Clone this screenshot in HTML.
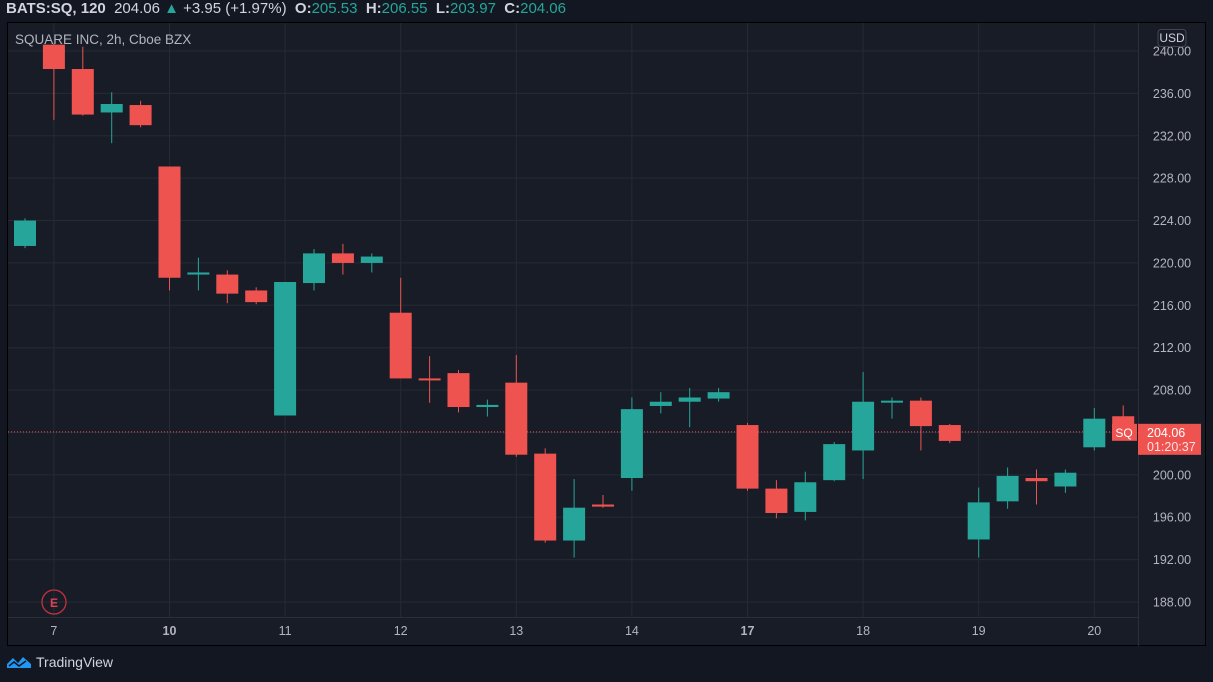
<!DOCTYPE html>
<html><head><meta charset="utf-8">
<style>
html,body{margin:0;padding:0;background:#131722;}
body{width:1213px;height:682px;position:relative;overflow:hidden;font-family:"Liberation Sans",sans-serif;}
#hdr{position:absolute;left:6px;top:0px;font-size:15px;color:#d1d4dc;white-space:nowrap;}
#hdr b{font-weight:bold;}
#hdr .g{color:#26a69a;}
#panel{position:absolute;left:7px;top:22px;width:1199px;height:624px;background:#181c27;border:1px solid #000;box-sizing:border-box;}
svg{position:absolute;left:0;top:0;}
#logo{position:absolute;left:6px;top:654px;color:#d1d4dc;font-size:14px;display:flex;align-items:center;gap:4px;}
</style></head><body>
<div id="hdr"><b>BATS:SQ, 120</b>&nbsp; 204.06 <span class="g">▲</span> +3.95 (+1.97%) &nbsp;<b>O:</b><span class="g">205.53</span> &nbsp;<b>H:</b><span class="g">206.55</span> &nbsp;<b>L:</b><span class="g">203.97</span> &nbsp;<b>C:</b><span class="g">204.06</span></div>
<div id="panel"></div>
<svg id="chart" width="1213" height="682"></svg>
<div id="logo"><svg width="26" height="16" style="position:static" viewBox="0 0 26 16"><path d="M1 14 L1 10 L7 4 L12 9 L17 3 L25 10 L25 14 Z" fill="#2196f3"/><path d="M3 12 L8 8 L13 12 L20 7" stroke="#131722" stroke-width="1.5" fill="none"/></svg><span>TradingView</span></div>
<script>
const opens  = [221.6,240.6,238.3,234.2,234.9,229.1,218.9,218.9,217.4,205.6,218.1,220.9,220.0,215.3,209.1,209.6,206.4,208.7,202.0,193.8,197.2,199.7,206.5,206.9,207.2,204.7,198.7,196.5,199.5,202.3,206.9,207.0,204.7,193.9,197.5,199.7,198.9,202.6,205.53];
const highs  = [224.2,240.7,240.4,236.1,235.3,229.1,220.5,219.3,217.7,218.2,221.3,221.8,220.9,218.6,211.2,209.9,207.1,211.3,202.5,199.6,198.1,207.3,207.8,208.2,208.2,204.9,199.5,200.3,203.1,209.7,207.3,207.3,204.8,198.8,200.7,200.5,200.5,206.3,206.55];
const lows   = [221.4,233.5,233.9,231.3,232.8,217.4,217.4,216.2,216.1,205.6,217.4,218.9,219.1,209.1,206.8,205.9,205.5,201.7,193.6,192.2,196.9,198.5,205.8,204.5,206.9,198.5,195.9,195.7,199.4,199.6,205.3,202.3,203.0,192.2,196.8,197.2,198.3,202.3,203.97];
const closes = [224.0,238.3,234.0,235.0,233.0,218.6,219.1,217.1,216.3,218.2,220.9,220.0,220.6,209.1,209.0,206.4,206.6,201.9,193.8,196.9,197.0,206.2,206.9,207.3,207.8,198.7,196.4,199.3,202.9,206.9,207.0,204.6,203.2,197.4,199.9,199.4,200.2,205.3,204.06];
const priceTicks = [240,236,232,228,224,220,216,212,208,204,200,196,192,188];
const dayLabels = ["7","10","11","12","13","14","17","18","19","20"];
const dayIndex  = [1,5,9,13,17,21,25,29,33,37];
const boldDays  = ["10","17"];
const lastPrice = 204.06;

const NS="http://www.w3.org/2000/svg";
const svg=document.getElementById('chart');
const yS=p=>51+(240-p)*10.596;
const xS=i=>25+28.9*i;
function mk(t,a){const e=document.createElementNS(NS,t);for(const k in a)e.setAttribute(k,a[k]);svg.appendChild(e);return e;}
const clip=mk('clipPath',{id:'pc'});
const cr=document.createElementNS(NS,'rect');cr.setAttribute('x',8);cr.setAttribute('y',23);cr.setAttribute('width',1130);cr.setAttribute('height',594);clip.appendChild(cr);
priceTicks.forEach(p=>{
  const l=mk('line',{x1:8,x2:1138,y1:yS(p),y2:yS(p),stroke:'#262a35','stroke-width':1});
  
  
  const t=mk('text',{x:1172,y:yS(p)+4.5,'text-anchor':'middle','font-size':12.5,fill:'#b2b5be'});
  t.textContent=p.toFixed(2);
  
  
});
dayLabels.forEach((d,k)=>{
  const x=xS(dayIndex[k]);
  const l=mk('line',{x1:x,x2:x,y1:23,y2:617,stroke:'#262a35','stroke-width':1});
  
  
  const t=mk('text',{x:x,y:635,'text-anchor':'middle','font-size':12.5,fill:'#b2b5be','font-weight':boldDays.includes(d)?'bold':'normal'});
  t.textContent=d;
  
  
});
mk('line',{x1:1138.5,x2:1138.5,y1:23,y2:646,stroke:'#2a2e39'});
mk('line',{x1:8,x2:1138,y1:617.5,y2:617.5,stroke:'#2a2e39'});
const pl=mk('line',{x1:8,x2:1138,y1:yS(lastPrice),y2:yS(lastPrice),stroke:'#ef5350','stroke-width':1,'stroke-dasharray':'1 2'});


const g=mk('g',{'clip-path':'url(#pc)'});
opens.forEach((o,i)=>{
  const c=closes[i],up=c>=o,col=up?'#26a69a':'#ef5350',x=xS(i);
  const w=document.createElementNS(NS,'line');
  w.setAttribute('x1',x);w.setAttribute('x2',x);w.setAttribute('y1',yS(highs[i]));w.setAttribute('y2',yS(lows[i]));w.setAttribute('stroke',col);
  
  
  g.appendChild(w);
  const top=yS(Math.max(o,c)),h=Math.max(2,Math.abs(yS(o)-yS(c)));
  const r=document.createElementNS(NS,'rect');
  r.setAttribute('x',x-11);r.setAttribute('y',top);r.setAttribute('width',22);r.setAttribute('height',h);r.setAttribute('fill',col);
  
  
  g.appendChild(r);
});
svg.appendChild(g);
const tt=mk('text',{x:15,y:44,'font-size':13.5,fill:'#b2b5be'});tt.textContent='SQUARE INC, 2h, Cboe BZX';


const ec=mk('circle',{cx:54,cy:602,r:12,fill:'none',stroke:'#c1323e','stroke-width':1.3});


const et=mk('text',{x:54,y:607,'text-anchor':'middle','font-size':12,fill:'#e0424f','font-weight':'bold'});et.textContent='E';
const ub=mk('rect',{x:1158,y:29.5,width:28,height:17,rx:3,fill:'#181c27',stroke:'#434651'});


const ut=mk('text',{x:1172,y:42,'text-anchor':'middle','font-size':12,fill:'#d1d4dc'});ut.textContent='USD';
const yl=yS(lastPrice);
const sq=mk('rect',{x:1112,y:yl-8,width:25,height:17,fill:'#ef5350'});


const sqt=mk('text',{x:1124,y:yl+5,'text-anchor':'middle','font-size':12,fill:'#fff'});sqt.textContent='SQ';
mk('line',{x1:1138,x2:1143,y1:yl,y2:yl,stroke:'#fff'});
const pb=mk('rect',{x:1138,y:yl-8,width:63,height:31,fill:'#ef5350'});


const pt=mk('text',{x:1147,y:yl+5,'font-size':12.5,fill:'#fff'});pt.textContent=lastPrice.toFixed(2);
const ct=mk('text',{x:1147,y:yl+19,'font-size':12.5,fill:'#fbe3e3'});ct.textContent='01:20:37';


</script>
</body></html>
